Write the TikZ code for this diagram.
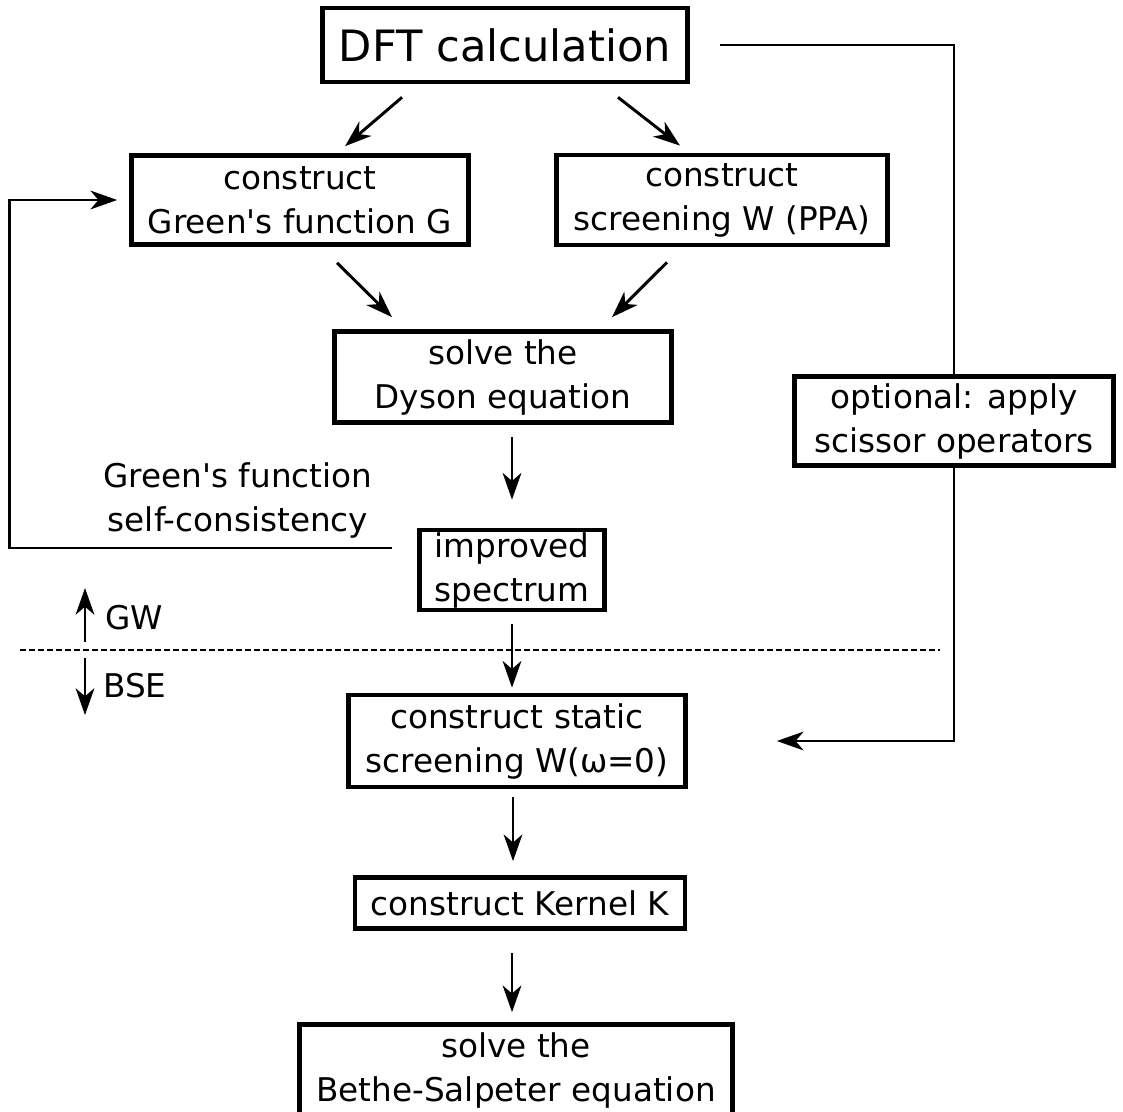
\documentclass[tikz,border=0pt]{standalone}
\usepackage{fontspec}
\setmainfont{DejaVu Sans}[Ligatures=TeXOff]
\usetikzlibrary{positioning,calc,arrows.meta}
\tikzset{
  stepbox/.style={
    draw,
    line width=3.5pt,
    align=center,
    inner sep=0pt,
    font=\fontsize{24.5}{33}\selectfont
  },
  plain/.style={
    align=center,
    inner sep=0pt,
    font=\fontsize{24.5}{33}\selectfont
  },
  arr/.style={-{Stealth[length=20pt,width=14pt,inset=6pt]}, line width=2.2pt}
}

\begin{document}
\begin{tikzpicture}[x=0.75pt,y=-0.75pt]
\useasboundingbox (0,0) rectangle (1123,1112);

\node[stepbox,minimum width=273.75pt,minimum height=55.5pt,
  font=\fontsize{32.4}{40}\selectfont]
  at (505,45) (dft) {DFT calculation};

\node[stepbox,minimum width=252.75pt,minimum height=66.75pt]
  at (300,200) (green) {construct\\Green's function G};
\node[stepbox,minimum width=248.25pt,minimum height=67.5pt]
  at (722,200) (screen) {construct\\screening W (PPA)};

\node[stepbox,minimum width=252.75pt,minimum height=68.25pt]
  at (503,377) (dyson) {solve the\\Dyson equation};

\node[stepbox,minimum width=138.75pt,minimum height=60pt]
  at (512,570) (spectrum) {improved\\spectrum};
\node[plain] at (238,500) (selfcons) {Green's function\\self-consistency};

\node[stepbox,minimum width=239.25pt,minimum height=66.75pt]
  at (954,421) (scissor) {optional: apply\\scissor operators};

\node[stepbox,minimum width=252.75pt,minimum height=69pt]
  at (517,741) (static) {construct static\\screening W(ω=0)};
\node[stepbox,minimum width=247.5pt,minimum height=38.25pt]
  at (520,903) (kernel) {construct Kernel K};
\node[stepbox,minimum width=324.75pt,minimum height=68.25pt]
  at (516,1070) (bse) {solve the\\Bethe-Salpeter equation};

% GW / BSE separator
\coordinate (sepL) at (20,650);
\coordinate (sepR) at (940,650);
\coordinate (sep) at (85,650);
\draw[line width=1.6pt,dash pattern=on 4.5pt off 2.25pt] (sepL) -- (sepR);
\draw[arr] ($(sep)+(0,-8)$) -- ($(sep)+(0,-62)$);
\draw[arr] ($(sep)+(0,8)$) -- ($(sep)+(0,65)$);
\node[plain,anchor=west] at (105,618) (gwlabel) {GW};
\node[plain,anchor=west] at (103,686) (bselabel) {BSE};

% main flow
\draw[arr] ($(dft.south)+(-103,13)$) -- ($(green.north)+(45,-7)$);
\draw[arr] ($(dft.south)+(113,13)$) -- ($(screen.north)+(-42,-7)$);
\draw[arr] ($(green.south)+(37,16)$) -- ($(dyson.north)+(-111,-12)$);
\draw[arr] ($(screen.south)+(-55,15)$) -- ($(dyson.north)+(109,-12)$);
\draw[arr] ($(dyson.south -| spectrum.north)+(0,12)$) -- ($(spectrum.north)+(0,-28)$);
\draw[arr] ($(spectrum.south)+(0,12)$) -- ($(spectrum.south |- static.north)+(0,-5)$);
\draw[arr] ($(static.south)+(-4,8)$) -- ($(kernel.north)+(-7,-14)$);
\draw[arr] ($(kernel.south)+(-8,22)$) -- ($(bse.north)+(-4,-10)$);

% self-consistency loop
\draw[arr] ($(spectrum.west)+(-25,-22)$) -| ($(green.west)+(-120,0)$)
  -- ($(green.west)+(-12,0)$);

% scissor branch
\draw[line width=2.2pt] ($(dft.east)+(30,0)$) -| (scissor.north);
\draw[arr] (scissor.south) |- ($(static.east)+(89,0)$);
\end{tikzpicture}
\end{document}
